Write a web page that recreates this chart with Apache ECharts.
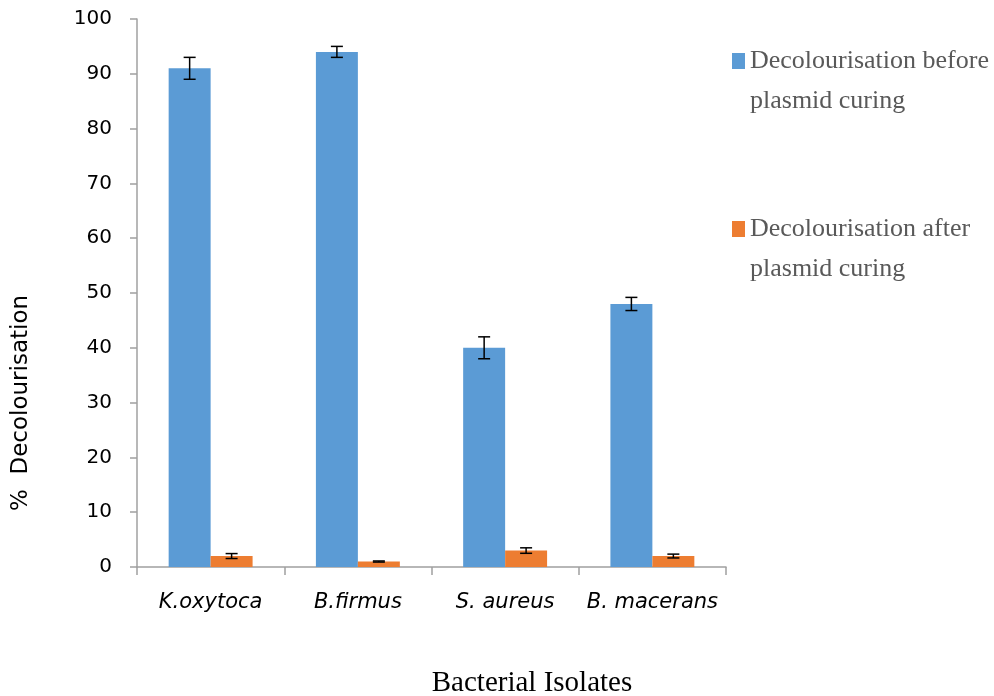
<!DOCTYPE html>
<html>
<head>
<meta charset="utf-8">
<script src="https://cdn.jsdelivr.net/npm/echarts@6/dist/echarts.min.js"></script>
<style>html,body{margin:0;padding:0;background:#fff;}#c{width:994px;height:696px;}</style>
</head>
<body>
<div id="c"></div>
<script>
const categories = ['K.oxytoca', 'B.firmus', 'S. aureus', 'B. macerans'];
const seriesNames = ['Decolourisation before plasmid curing', 'Decolourisation after plasmid curing'];
const beforeValues = [91, 94, 40, 48];
const beforeErr = [2, 1, 2, 1.2];
const afterValues = [2, 1, 3, 2];
const afterErr = [0.45, 0.1, 0.5, 0.35];
const yTicks = [0, 10, 20, 30, 40, 50, 60, 70, 80, 90, 100];

const BAR_FRAC = 0.285;
const chart = echarts.init(document.getElementById('c'));

function errData(vals, errs) {
  return vals.map((v, i) => [i, v, errs[i]]);
}
function errRender(side) {
  return function (params, api) {
    const i = api.value(0), v = api.value(1), e = api.value(2);
    const band = api.size([1, 0])[0];
    const off = side * band * BAR_FRAC / 2;
    const top = api.coord([i, v + e]);
    const bot = api.coord([i, v - e]);
    const x = top[0] + off;
    const cap = 6;
    const style = { stroke: '#000', lineWidth: 1.5 };
    return {
      type: 'group',
      children: [
        { type: 'line', shape: { x1: x, y1: top[1], x2: x, y2: bot[1] }, style },
        { type: 'line', shape: { x1: x - cap, y1: top[1], x2: x + cap, y2: top[1] }, style },
        { type: 'line', shape: { x1: x - cap, y1: bot[1], x2: x + cap, y2: bot[1] }, style }
      ]
    };
  };
}

const axisGray = '#a0a0a0';
chart.setOption({
  animation: false,
  backgroundColor: '#fff',
  grid: { left: 137, right: 268, top: 19, bottom: 129, containLabel: false },
  graphic: [
    {
      type: 'text', x: 21, y: 403, rotation: Math.PI / 2,
      style: {
        text: '%  Decolourisation', fontFamily: 'DejaVu Sans', fontSize: 23, fill: '#000',
        textAlign: 'center', textVerticalAlign: 'middle'
      }
    },
    {
      type: 'text', x: 532, y: 683,
      style: {
        text: 'Bacterial Isolates', fontFamily: 'Liberation Serif', fontSize: 29, fill: '#000',
        textAlign: 'center', textVerticalAlign: 'middle'
      }
    }
  ],
  legend: {
    data: seriesNames,
    orient: 'vertical',
    left: 727, top: -4,
    itemWidth: 13, itemHeight: 16,
    itemGap: 48,
    icon: 'rect',
    formatter: function (name) {
      return ' \n' + name.replace(' plasmid', '\nplasmid');
    },
    textStyle: {
      fontFamily: 'Liberation Serif', fontSize: 26, color: '#595959',
      lineHeight: 40
    }
  },
  xAxis: {
    type: 'category',
    data: categories,
    axisLine: { lineStyle: { color: axisGray, width: 1.5 } },
    axisTick: { show: true, interval: 0, length: 8, lineStyle: { color: axisGray, width: 1.5 } },
    axisLabel: { interval: 0, margin: 25, fontFamily: 'DejaVu Sans', fontStyle: 'italic', fontSize: 21, color: '#000' },
    splitLine: { show: false }
  },
  yAxis: {
    type: 'value',
    min: yTicks[0], max: yTicks[yTicks.length - 1], interval: 10,
    axisLine: { show: true, lineStyle: { color: axisGray, width: 1.5 } },
    axisTick: { show: true, length: 7, lineStyle: { color: axisGray, width: 1.5 } },
    axisLabel: { margin: 25, fontFamily: 'DejaVu Sans', fontSize: 20, color: '#000' },
    splitLine: { show: false }
  },
  series: [
    {
      name: seriesNames[0], type: 'bar', data: beforeValues,
      barWidth: (BAR_FRAC * 100) + '%', barGap: '0%',
      itemStyle: { color: '#5b9bd5' }
    },
    {
      name: seriesNames[1], type: 'bar', data: afterValues,
      barWidth: (BAR_FRAC * 100) + '%', barGap: '0%',
      itemStyle: { color: '#ed7d31' }
    },
    {
      type: 'custom', name: 'errBefore', renderItem: errRender(-1),
      data: errData(beforeValues, beforeErr), z: 10, silent: true,
      encode: { x: 0, y: 1 }
    },
    {
      type: 'custom', name: 'errAfter', renderItem: errRender(1),
      data: errData(afterValues, afterErr), z: 10, silent: true,
      encode: { x: 0, y: 1 }
    }
  ]
});
</script>
</body>
</html>
